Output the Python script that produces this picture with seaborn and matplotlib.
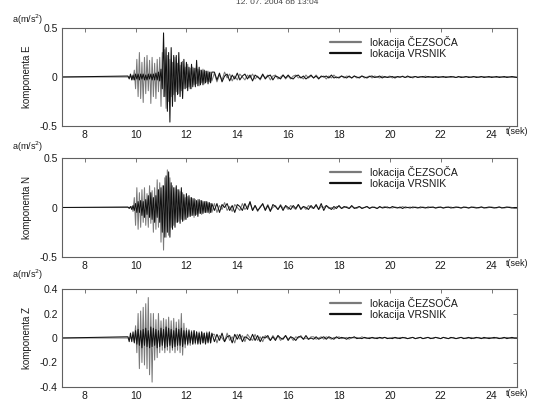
import numpy as np
import matplotlib
matplotlib.use("Agg")
import matplotlib.pyplot as plt
import seaborn as sns

sns.set_style("white")
plt.rcParams['font.family'] = ['Liberation Sans', 'DejaVu Sans']

# ---------------- data ----------------
title_text = "12. 07. 2004 ob 13:04"
labels = ["lokacija ČEZSOČA", "lokacija VRSNIK"]
components = ["komponenta E", "komponenta N", "komponenta Z"]
x_ticks = [8, 10, 12, 14, 16, 18, 20, 22, 24]
y_ticks = [[-0.5, 0, 0.5], [-0.5, 0, 0.5], [-0.4, -0.2, 0, 0.2, 0.4]]
y_ticklabels = [["-0.5", "0", "0.5"], ["-0.5", "0", "0.5"],
                ["-0.4", "-0.2", "0", "0.2", "0.4"]]
y_limits = [(-0.5, 0.5), (-0.5, 0.5), (-0.4, 0.4)]
x_limits = (7.1, 25.0)

record_start = 7.1          # quiet record before the event (value 0)
active_start, active_dt = 9.70, 0.05   # strong-motion part, 9.70 .. 13.00 s
tail_start, tail_dt = 13.10, 0.10      # coda, 13.1 .. 25.0 s

E_cez_active = [0, 0, 0, 0.01, -0.03, 0.07, -0.12, 0.18, -0.2, 0.25,
                -0.22, 0.15, -0.26, 0.2, -0.17, 0.22, -0.14, 0.17, -0.27, 0.2,
                -0.2, 0.14, -0.22, 0.18, -0.15, 0.2, -0.3, 0.25, -0.2, 0.28,
                -0.32, 0.22, -0.25, 0.18, -0.2, 0.15, -0.18, 0.2, -0.15, 0.14,
                -0.17, 0.12, -0.14, 0.16, -0.12, 0.1, -0.11, 0.13, -0.1, 0.09,
                -0.12, 0.1, -0.08, 0.09, -0.07, 0.08, -0.09, 0.07, -0.06, 0.08,
                -0.07, 0.06, -0.05, 0.06, -0.05, 0.05, -0.04]
E_vrs_active = [0.01, -0.02, 0.03, -0.03, 0.02, -0.03, 0.03, -0.02, 0.03, -0.03,
                0.03, -0.02, 0.03, -0.03, 0.02, -0.03, 0.03, -0.02, 0.03, -0.03,
                0.03, -0.03, 0.04, -0.03, 0.05, -0.04, 0.08, -0.12, 0.45, -0.2,
                0.3, -0.35, 0.25, -0.46, 0.3, -0.3, 0.22, -0.25, 0.22, -0.18,
                0.25, -0.2, 0.15, -0.22, 0.18, -0.12, 0.15, -0.14, 0.1, -0.12,
                0.13, -0.1, 0.09, -0.1, 0.17, -0.09, 0.1, -0.08, 0.07, -0.08,
                0.07, -0.06, 0.06, -0.07, 0.05, -0.06, 0.05]
N_cez_active = [0, 0, 0, 0.01, -0.04, 0.1, -0.18, 0.2, -0.22, 0.15,
                -0.2, 0.18, -0.15, 0.2, -0.18, 0.14, -0.2, 0.22, -0.16, 0.17,
                -0.25, 0.2, -0.22, 0.28, -0.2, 0.25, -0.35, 0.22, -0.43, 0.3,
                -0.3, 0.38, -0.28, 0.3, -0.2, 0.22, -0.18, 0.2, -0.15, 0.18,
                -0.14, 0.16, -0.12, 0.15, -0.13, 0.1, -0.12, 0.11, -0.09, 0.1,
                -0.08, 0.09, -0.1, 0.08, -0.07, 0.08, -0.06, 0.07, -0.07, 0.06,
                -0.05, 0.06, -0.05, 0.05, -0.06, 0.04, -0.05]
N_vrs_active = [0.005, -0.01, 0.01, -0.02, 0.02, -0.03, 0.04, -0.05, 0.06, -0.05,
                0.07, -0.08, 0.06, -0.1, 0.08, -0.07, 0.12, -0.1, 0.15, -0.12,
                0.1, -0.15, 0.12, -0.1, 0.18, -0.15, 0.2, -0.25, 0.22, -0.3,
                0.32, -0.25, 0.36, -0.3, 0.25, -0.22, 0.2, -0.2, 0.22, -0.15,
                0.18, -0.16, 0.2, -0.14, 0.13, -0.12, 0.14, -0.1, 0.12, -0.09,
                0.1, -0.08, 0.09, -0.08, 0.07, -0.09, 0.08, -0.06, 0.07, -0.06,
                0.06, -0.05, 0.06, -0.05, 0.05, -0.05, 0.04]
Z_cez_active = [0, 0, 0, 0, 0.01, -0.03, 0.1, -0.12, 0.2, -0.25,
                0.22, -0.2, 0.25, -0.22, 0.28, -0.25, 0.33, -0.3, 0.2, -0.36,
                0.2, -0.18, 0.15, -0.16, 0.2, -0.12, 0.14, -0.1, 0.16, -0.12,
                0.15, -0.1, 0.17, -0.12, 0.14, -0.1, 0.16, -0.12, 0.13, -0.1,
                0.15, -0.12, 0.2, -0.14, 0.12, -0.08, 0.08, -0.06, 0.07, -0.06,
                0.06, -0.05, 0.06, -0.05, 0.05, -0.04, 0.05, -0.04, 0.05, -0.04,
                0.04, -0.04, 0.05, -0.03, 0.04, -0.04, 0.03]
Z_vrs_active = [0.01, -0.03, 0.04, -0.03, 0.05, -0.04, 0.06, -0.05, 0.07, -0.06,
                0.06, -0.08, 0.07, -0.06, 0.08, -0.07, 0.06, -0.08, 0.09, -0.07,
                0.08, -0.06, 0.07, -0.08, 0.06, -0.07, 0.08, -0.06, 0.07, -0.08,
                0.09, -0.07, 0.08, -0.06, 0.07, -0.08, 0.06, -0.07, 0.08, -0.06,
                0.07, -0.06, 0.08, -0.07, 0.06, -0.05, 0.06, -0.05, 0.06, -0.04,
                0.05, -0.05, 0.06, -0.04, 0.05, -0.05, 0.04, -0.05, 0.05, -0.04,
                0.04, -0.05, 0.04, -0.04, 0.05, -0.04, 0.04]

E_cez_tail = [0.04, -0.05, 0.02, -0.03, 0.05, -0.01, 0.03, -0.04, 0.01, -0.03,
              0.03, 0.0, -0.03, 0.02, -0.01, 0.03, -0.02, 0.01, -0.03, 0.02,
              -0.01, 0.02, -0.03, 0.01, 0.02, -0.02, 0.0, 0.02, -0.02, 0.01,
              -0.02, 0.01, 0.02, -0.01, 0.0, -0.02, 0.02, -0.01, 0.01, -0.01,
              0.02, -0.01, 0.0, 0.01, -0.02, 0.01, -0.01, 0.02, -0.01, 0.0,
              0.01, -0.01, 0.01, 0.0, -0.01, 0.01, -0.01, 0.0, 0.01, -0.01,
              0.0, 0.01, -0.01, 0.01, 0.0, -0.01, 0.01, -0.005, 0.0, 0.01,
              -0.01, 0.005, 0.0, -0.005, 0.01, -0.005, 0.0, 0.005, -0.01, 0.005,
              0.0, 0.005, -0.005, 0.01, -0.005, 0.0, 0.005, -0.005, 0.005, 0.0,
              -0.005, 0.005, 0.0, -0.005, 0.005, -0.005, 0.0, 0.005, -0.005, 0.0,
              0.005, -0.005, 0.0, 0.005, -0.005, 0.0, 0.005, 0.0, -0.005, 0.005,
              0.0, -0.005, 0.005, 0.0, -0.005, 0.005, 0.0, -0.005, 0.0, 0.0]
E_vrs_tail = [0.05, -0.03, 0.04, -0.05, 0.01, 0.03, -0.04, 0.02, -0.02, 0.04,
              -0.03, 0.01, 0.03, -0.02, 0.02, -0.04, 0.02, 0.0, -0.02, 0.03,
              -0.02, 0.01, 0.02, -0.03, 0.01, 0.0, -0.02, 0.02, -0.01, 0.02,
              -0.01, -0.02, 0.01, 0.02, -0.01, 0.01, -0.02, 0.0, 0.02, -0.01,
              0.01, -0.02, 0.01, 0.0, 0.01, -0.01, 0.02, -0.01, 0.0, -0.01,
              0.01, 0.0, -0.01, 0.01, -0.01, 0.01, 0.0, -0.01, 0.01, 0.0,
              -0.01, 0.005, 0.01, -0.005, 0.0, 0.01, -0.01, 0.005, -0.005, 0.0,
              0.005, -0.01, 0.005, 0.0, 0.005, -0.005, 0.01, -0.005, 0.0, 0.005,
              -0.005, 0.0, 0.005, -0.005, 0.005, 0.0, -0.005, 0.005, -0.005, 0.0,
              0.005, -0.005, 0.0, 0.005, 0.0, -0.005, 0.005, -0.005, 0.0, 0.005,
              -0.005, 0.0, 0.005, -0.005, 0.0, 0.005, -0.005, 0.0, 0.005, -0.005,
              0.0, 0.005, -0.005, 0.0, 0.005, -0.005, 0.0, 0.005, 0.0, -0.005]
N_cez_tail = [0.04, -0.05, 0.02, -0.02, 0.05, -0.03, 0.01, -0.04, 0.03, 0.0,
              -0.03, 0.04, -0.02, 0.01, 0.05, -0.03, 0.02, -0.04, 0.01, 0.03,
              -0.02, 0.03, -0.03, 0.0, 0.02, -0.02, 0.03, -0.01, 0.01, -0.02,
              0.02, 0.0, -0.02, 0.03, -0.01, 0.01, -0.02, 0.02, 0.0, -0.01,
              0.02, -0.02, 0.01, 0.0, 0.02, -0.01, 0.0, -0.02, 0.01, 0.01,
              -0.01, 0.0, 0.01, -0.01, 0.01, 0.0, -0.01, 0.01, -0.005, 0.0,
              0.01, -0.005, 0.0, 0.005, -0.01, 0.005, 0.0, 0.01, -0.005, 0.0,
              -0.005, 0.005, 0.0, -0.005, 0.01, -0.005, 0.0, 0.005, -0.005, 0.005,
              0.0, -0.005, 0.005, 0.0, -0.005, 0.005, 0.0, -0.005, 0.005, 0.0,
              -0.005, 0.005, 0.0, 0.005, -0.005, 0.0, 0.005, -0.005, 0.0, 0.005,
              -0.005, 0.0, 0.005, 0.0, -0.005, 0.005, 0.0, -0.005, 0.0, 0.005,
              0.0, -0.005, 0.005, 0.0, -0.005, 0.0, 0.005, 0.0, -0.005, 0.0]
N_vrs_tail = [-0.03, 0.04, -0.05, 0.03, 0.0, 0.04, -0.03, 0.02, -0.05, 0.03,
              0.01, -0.03, 0.04, -0.02, 0.06, -0.03, 0.02, -0.03, 0.0, 0.04,
              -0.03, 0.02, -0.04, 0.03, 0.01, -0.02, 0.02, -0.03, 0.02, 0.0,
              -0.02, 0.02, -0.01, 0.03, -0.02, 0.01, 0.0, -0.02, 0.02, -0.01,
              0.03, -0.02, 0.04, -0.03, 0.02, 0.0, -0.02, 0.01, -0.01, 0.02,
              -0.01, 0.01, 0.0, -0.01, 0.02, -0.01, 0.0, 0.01, -0.01, 0.0,
              0.01, -0.01, 0.005, 0.0, -0.01, 0.01, -0.005, 0.0, 0.005, -0.005,
              0.01, 0.0, -0.005, 0.005, -0.01, 0.005, 0.0, -0.005, 0.005, 0.0,
              -0.005, 0.005, 0.0, -0.005, 0.005, 0.0, 0.005, -0.005, 0.0, 0.005,
              -0.005, 0.0, 0.005, -0.005, 0.0, 0.005, 0.0, -0.005, 0.005, 0.0,
              -0.005, 0.005, 0.0, -0.005, 0.0, 0.005, -0.005, 0.0, 0.005, 0.0,
              -0.005, 0.0, 0.005, -0.005, 0.0, 0.005, 0.0, -0.005, 0.0, 0.0]
Z_cez_tail = [0.03, -0.04, 0.02, 0.0, -0.03, 0.04, -0.02, 0.01, -0.04, 0.03,
              -0.01, 0.02, -0.03, 0.03, 0.0, -0.02, 0.03, -0.02, 0.01, -0.03,
              0.02, 0.0, -0.02, 0.02, -0.01, 0.02, -0.02, 0.0, 0.02, -0.01,
              0.01, -0.02, 0.01, 0.0, 0.02, -0.01, 0.0, -0.01, 0.01, 0.01,
              -0.01, 0.0, 0.01, -0.01, 0.01, 0.0, -0.01, 0.005, 0.0, 0.01,
              -0.005, 0.0, 0.005, -0.01, 0.005, 0.0, 0.005, -0.005, 0.01, 0.0,
              -0.005, 0.005, 0.0, -0.005, 0.005, 0.0, -0.005, 0.005, 0.0, -0.005,
              0.005, 0.0, -0.005, 0.005, 0.0, 0.005, -0.005, 0.0, 0.005, -0.005,
              0.0, 0.005, -0.005, 0.0, 0.005, 0.0, -0.005, 0.005, 0.0, -0.005,
              0.005, 0.0, -0.005, 0.0, 0.005, -0.005, 0.0, 0.005, 0.0, -0.005,
              0.0, 0.005, -0.005, 0.0, 0.005, 0.0, -0.005, 0.0, 0.005, 0.0,
              -0.005, 0.005, 0.0, -0.005, 0.0, 0.005, 0.0, -0.005, 0.0, 0.0]
Z_vrs_tail = [-0.03, 0.03, -0.02, 0.04, -0.03, 0.01, 0.02, -0.04, 0.03, -0.01,
              0.03, -0.03, 0.01, 0.0, -0.02, 0.03, -0.02, 0.02, -0.03, 0.01,
              0.0, 0.02, -0.02, 0.01, -0.02, 0.02, 0.0, -0.01, 0.02, -0.02,
              0.01, 0.0, -0.02, 0.01, 0.01, -0.01, 0.02, -0.01, 0.0, -0.01,
              0.01, -0.01, 0.0, 0.01, -0.01, 0.01, 0.0, -0.01, 0.01, -0.005,
              0.005, 0.0, -0.01, 0.005, 0.0, 0.01, -0.005, 0.0, -0.005, 0.005,
              0.0, -0.005, 0.005, 0.0, -0.005, 0.005, 0.0, 0.005, -0.005, 0.0,
              -0.005, 0.005, 0.0, -0.005, 0.005, 0.0, -0.005, 0.0, 0.005, -0.005,
              0.0, 0.005, -0.005, 0.0, 0.005, -0.005, 0.0, 0.005, 0.0, -0.005,
              0.005, 0.0, -0.005, 0.005, 0.0, -0.005, 0.0, 0.005, -0.005, 0.0,
              0.005, -0.005, 0.0, 0.005, 0.0, -0.005, 0.005, 0.0, -0.005, 0.0,
              0.005, 0.0, -0.005, 0.0, 0.005, -0.005, 0.0, 0.005, 0.0, 0.0]

series = [
    (E_cez_active, E_cez_tail, E_vrs_active, E_vrs_tail),
    (N_cez_active, N_cez_tail, N_vrs_active, N_vrs_tail),
    (Z_cez_active, Z_cez_tail, Z_vrs_active, Z_vrs_tail),
]

# ---------------- styling ----------------
colors = ["#7a7a7a", "#111111"]
frame_col = "#606060"
txt_col = "#1a1a1a"


def build(active, tail):
    t_act = active_start + active_dt * np.arange(len(active))
    t_tail = tail_start + tail_dt * np.arange(len(tail))
    t = np.concatenate([[record_start], t_act, t_tail])
    v = np.concatenate([[0.0], np.asarray(active, float), np.asarray(tail, float)])
    return t, v


fig = plt.figure(figsize=(5.33, 4.0), dpi=100)
positions = [[0.116, 0.685, 0.854, 0.245],
             [0.116, 0.3575, 0.854, 0.2475],
             [0.116, 0.0325, 0.854, 0.245]]
label_y_px = [20, 147, 275]
tsek_y_px = [132, 263, 394]

for i, pos in enumerate(positions):
    ax = fig.add_axes(pos)
    ca, ct, va, vt = series[i]
    t1, v1 = build(ca, ct)
    t2, v2 = build(va, vt)
    sns.lineplot(x=t1, y=v1, ax=ax, color=colors[0], lw=0.75, label=labels[0],
                 estimator=None, sort=False)
    sns.lineplot(x=t2, y=v2, ax=ax, color=colors[1], lw=0.75, label=labels[1],
                 estimator=None, sort=False)
    ax.set_xlim(*x_limits)
    ax.set_ylim(*y_limits[i])
    ax.set_xticks(x_ticks)
    ax.set_xticklabels([str(x) for x in x_ticks])
    ax.set_yticks(y_ticks[i])
    ax.set_yticklabels(y_ticklabels[i])
    ax.tick_params(direction="in", top=True, right=True, length=3, width=0.6,
                   color=frame_col, labelsize=7.5, labelcolor=txt_col, pad=3)
    for s in ax.spines.values():
        s.set_color(frame_col)
        s.set_linewidth(0.8)
    ax.set_ylabel(components[i], fontsize=7, color=txt_col)
    ax.yaxis.set_label_coords(-0.066, 0.5)
    ax.set_xlabel("")
    leg = ax.legend(loc="upper left", bbox_to_anchor=(0.575, 0.985), frameon=False,
                    fontsize=7.5, handlelength=3.0, handletextpad=0.9,
                    labelspacing=0.1, borderaxespad=0.2)
    for txt in leg.get_texts():
        txt.set_color(txt_col)
    for h in leg.get_lines():
        h.set_linewidth(1.6)
    fig.text(12 / 533, 1 - label_y_px[i] / 400, "a(m/s$^2$)", fontsize=6.5,
             color=txt_col, ha="left", va="center")
    fig.text(506 / 533, 1 - tsek_y_px[i] / 400, "t(sek)", fontsize=6.5,
             color=txt_col, ha="left", va="center")

fig.text(0.52, 1 - 3 / 400, title_text, fontsize=6, color="#444444",
         ha="center", va="center")

fig.savefig("out.png", dpi=100)
